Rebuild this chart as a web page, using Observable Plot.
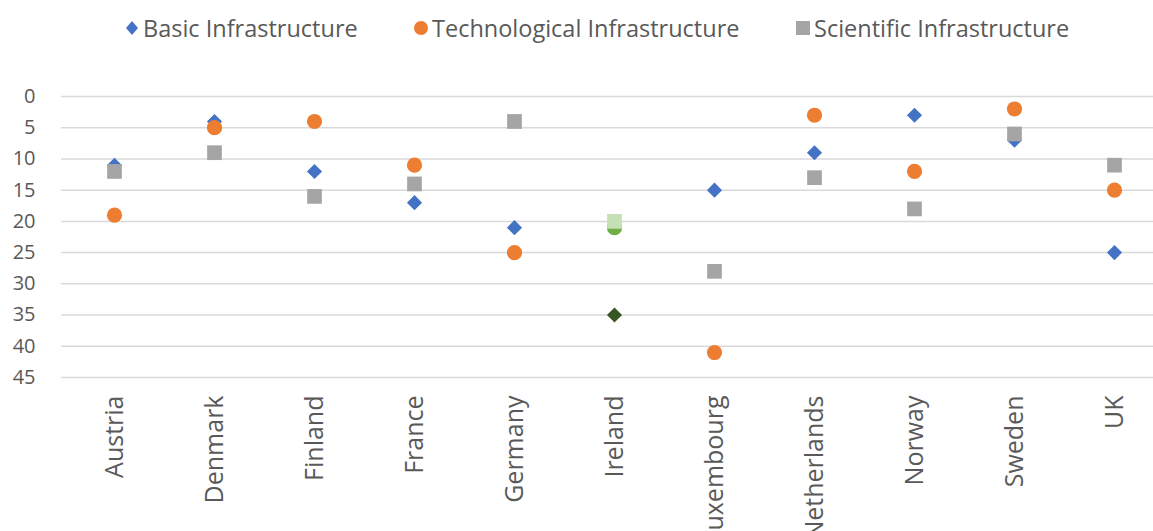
<!DOCTYPE html>
<html>
<head>
<meta charset="utf-8">
<script src="https://cdn.jsdelivr.net/npm/d3@7"></script>
<script src="https://cdn.jsdelivr.net/npm/@observablehq/plot@0.6"></script>
<style>
  html, body { margin: 0; padding: 0; background: #fff; }
  body { width: 1153px; height: 531px; overflow: hidden; font-family: "Open Sans", sans-serif; }
  #legend { position: relative; height: 56px; color: #595959; font-size: 23.5px; }
  .item { position: absolute; top: 13px; display: flex; align-items: center; height: 30px; white-space: nowrap; }
  .item svg { margin-right: 3px; }
</style>
</head>
<body>
<div id="legend"></div>
<div id="chart"></div>
<script>
const countries = ["Austria","Denmark","Finland","France","Germany","Ireland","Luxembourg","Netherlands","Norway","Sweden","UK"];
const basic = [11, 4, 12, 17, 21, 35, 15, 9, 3, 7, 25];
const technological = [19, 5, 4, 11, 25, 21, 41, 3, 12, 2, 15];
const scientific = [12, 9, 16, 14, 4, 20, 28, 13, 18, 6, 11];
const seriesNames = ["Basic Infrastructure", "Technological Infrastructure", "Scientific Infrastructure"];
const seriesColors = ["#4472C4", "#ED7D31", "#A5A5A5"];
const irelandColors = ["#375623", "#70AD47", "#C5E0B4"];
const yTicks = [0, 5, 10, 15, 20, 25, 30, 35, 40, 45];

const values = [basic, technological, scientific];
const symbols = ["diamond2", "circle", "square"];
const radii = [6.8, 7.6, 8.3];

// legend
const legend = document.getElementById("legend");
const legendX = [124, 413, 795];
seriesNames.forEach((name, i) => {
  const item = document.createElement("div");
  item.className = "item";
  item.style.left = legendX[i] + "px";
  const sym = symbols[i];
  let shape;
  if (sym === "diamond2") shape = `<polygon points="8,2 14,9 8,16 2,9" fill="${seriesColors[i]}"/>`;
  else if (sym === "circle") shape = `<circle cx="8" cy="9" r="7" fill="${seriesColors[i]}"/>`;
  else shape = `<rect x="1" y="2" width="14" height="14" fill="${seriesColors[i]}"/>`;
  item.innerHTML = `<svg width="16" height="18">${shape}</svg><span>${name}</span>`;
  legend.appendChild(item);
});

const rows = values.map((vals, s) => countries.map((c, i) => ({
  country: c,
  value: vals[i],
  color: c === "Ireland" ? irelandColors[s] : seriesColors[s]
})));

const plot = Plot.plot({
  width: 1153,
  height: 475,
  marginTop: 40,
  marginBottom: 154,
  marginLeft: 61,
  marginRight: 0,
  style: { fontFamily: "'Open Sans', sans-serif", color: "#595959", background: "#fff", overflow: "visible" },
  x: { type: "point", domain: countries, range: [111, 1116], padding: 0, label: null },
  y: { domain: [0, 45], reverse: true, label: null },
  color: { type: "identity" },
  marks: [
    Plot.ruleY(yTicks, { stroke: "#D9D9D9", strokeWidth: 1.5 }),
    Plot.axisY({ ticks: yTicks, tickSize: 0, tickPadding: 26, fontSize: 20, label: null }),
    Plot.axisX({ tickSize: 0, tickPadding: 18, tickRotate: -90, fontSize: 25, label: null }),
    ...rows.map((data, s) => Plot.dot(data, {
      x: "country", y: "value", symbol: () => symbols[s], r: radii[s],
      fill: "color", stroke: "none"
    }))
  ]
});
document.getElementById("chart").appendChild(plot);
</script>
</body>
</html>
